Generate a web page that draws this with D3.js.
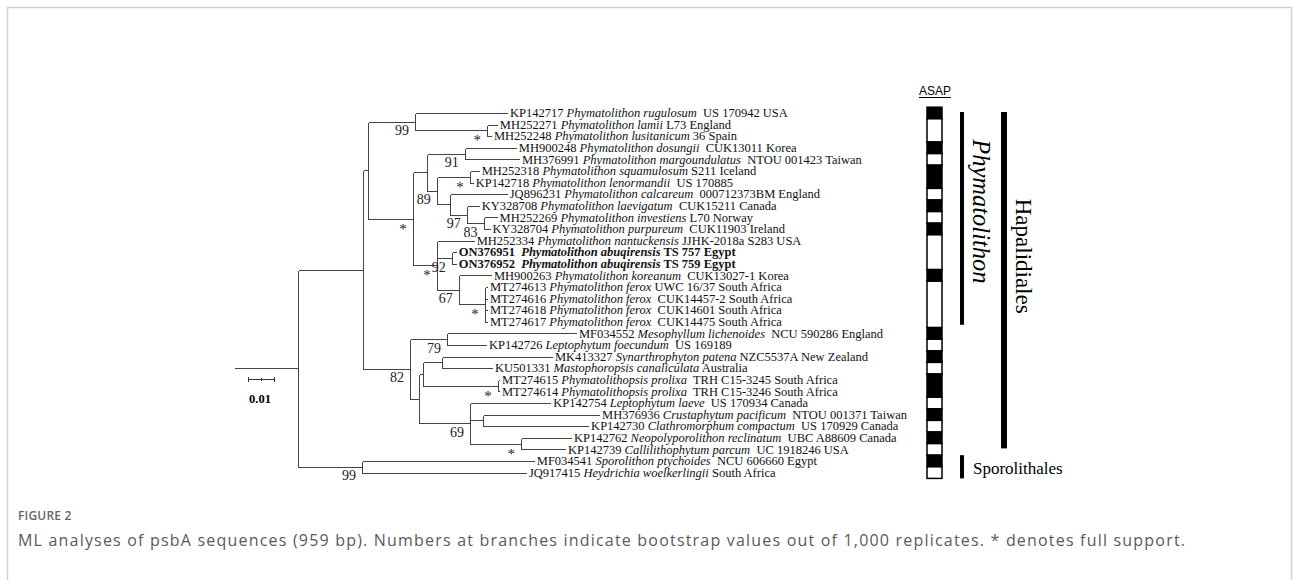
<!DOCTYPE html>
<html><head><meta charset="utf-8">
<script src="https://cdn.jsdelivr.net/npm/d3@7"></script>
<style>
body{margin:0;background:#fff;}
svg{display:block;}
text{white-space:pre;}
</style></head><body>
<svg id="chart" width="1293" height="580"></svg>
<script>
// ---------- DATA ----------
// Tree topology, branch lengths (substitutions/site) and bootstrap labels (Newick)
const newick = "(((" +
  "(KP142717:0.0358,(MH252271:0.0042,MH252248:0.0019)*:0.0277)99:0.0181," +
  "(((MH900248:0.0200,MH376991:0.0212)91:0.0146,((MH252318:0.0038,KP142718:0.0015)*:0.0127,(JQ896231:0.0223,(KY328708:0.0050,(MH252269:0.0054,KY328704:0.0027)83:0.0065)97:0.0065):0.0050)89:0.0038):0.0054," +
  "(MH252334:0.0146,(ON376951:0.0019,ON376952:0.0019)92:0.0058,(MH900263:0.0127,(MT274613:0.0012,MT274616:0.0012,MT274618:0.0012,MT274617:0.0012)*:0.0100)67:0.0085)*:0.0092)*:0.0173" +
  "):0.0019," +
  "((MF034552:0.0500,KP142726:0.0154)79:0.0142,(((MK413327:0.0427,KU501331:0.0196):0.0073,(MT274615:0.0008,MT274614:0.0008)*:0.0288):0.0015,(KP142754:0.0312,(MH376936:0.0450,KP142730:0.0408):0.0050,(KP142762:0.0196,KP142739:0.0173)*:0.0196)69:0.0196):0.0035)82:0.0181" +
  "):0.0250,(MF034541:0.0665,JQ917415:0.0635)99:0.0246):0.0242;";

const accessions = ["KP142717","MH252271","MH252248","MH900248","MH376991","MH252318","KP142718","JQ896231","KY328708","MH252269","KY328704","MH252334","ON376951","ON376952","MH900263","MT274613","MT274616","MT274618","MT274617","MF034552","KP142726","MK413327","KU501331","MT274615","MT274614","KP142754","MH376936","KP142730","KP142762","KP142739","MF034541","JQ917415"];
const species = ["Phymatolithon rugulosum","Phymatolithon lamii","Phymatolithon lusitanicum","Phymatolithon dosungii","Phymatolithon margoundulatus","Phymatolithon squamulosum","Phymatolithon lenormandii","Phymatolithon calcareum","Phymatolithon laevigatum","Phymatolithon investiens","Phymatolithon purpureum","Phymatolithon nantuckensis","Phymatolithon abuqirensis","Phymatolithon abuqirensis","Phymatolithon koreanum","Phymatolithon ferox","Phymatolithon ferox","Phymatolithon ferox","Phymatolithon ferox","Mesophyllum lichenoides","Leptophytum foecundum","Synarthrophyton patena","Mastophoropsis canaliculata","Phymatolithopsis prolixa","Phymatolithopsis prolixa","Leptophytum laeve","Crustaphytum pacificum","Clathromorphum compactum","Neopolyporolithon reclinatum","Callilithophytum parcum","Sporolithon ptychoides","Heydrichia woelkerlingii"];
const vouchers = ["  US 170942 USA"," L73 England"," 36 Spain","  CUK13011 Korea","  NTOU 001423 Taiwan"," S211 Iceland","  US 170885","  000712373BM England","  CUK15211 Canada"," L70 Norway","  CUK11903 Ireland"," JJHK-2018a S283 USA"," TS 757 Egypt"," TS 759 Egypt","  CUK13027-1 Korea"," UWC 16/37 South Africa","  CUK14457-2 South Africa","  CUK14601 South Africa","  CUK14475 South Africa","  NCU 590286 England","  US 169189"," NZC5537A New Zealand"," Australia","  TRH C15-3245 South Africa","  TRH C15-3246 South Africa","  US 170934 Canada","  NTOU 001371 Taiwan","  US 170929 Canada","  UBC A88609 Canada","  UC 1918246 USA","  NCU 606660 Egypt"," South Africa"];
const newSequences = ["ON376951","ON376952"];

// ASAP species partition (one group id per tip, in tip order)
const asapGroups = [1,2,2,3,4,5,5,6,7,8,9,10,10,10,11,12,12,12,12,13,14,15,16,17,17,18,19,20,21,22,23,24];

// Clade bars: name, first tip, last tip
const cladeNames = ["Phymatolithon","Hapalidiales","Sporolithales"];
const cladeFirst = [0,0,30];
const cladeLast  = [18,29,31];

const scaleBarValue = 0.01;
const asapTitle = "ASAP";
const figureLabel = "FIGURE 2";
const captionText = "ML analyses of psbA sequences (959 bp). Numbers at branches indicate bootstrap values out of 1,000 replicates. * denotes full support.";

// ---------- PARSER ----------
function parseNewick(s){
  let i = 0;
  function node(){
    const n = {children:[]};
    if (s[i] === '('){
      i++;
      n.children.push(node());
      while (s[i] === ','){ i++; n.children.push(node()); }
      i++; // ')'
    }
    let name = '';
    while (i < s.length && !',():;'.includes(s[i])) name += s[i++];
    n.name = name;
    n.length = 0;
    if (s[i] === ':'){
      i++;
      let l = '';
      while (i < s.length && !',();'.includes(s[i])) l += s[i++];
      n.length = +l;
    }
    return n;
  }
  return node();
}

// ---------- LAYOUT ----------
const svg = d3.select('#chart');
const SERIF = '"Liberation Serif","Times New Roman",Times,serif';

// frame
svg.append('rect').attr('x',7.5).attr('y',7.5).attr('width',1284).attr('height',620)
  .attr('fill','none').attr('stroke','#d2d2d2').attr('stroke-width',1.5);

const root = d3.hierarchy(parseNewick(newick), d => d.children.length ? d.children : null);
root.eachBefore(d => { d.len = (d.parent ? d.parent.len : 0) + d.data.length; });
const leaves = root.leaves();
leaves.forEach((d,i) => d.row = i);

const x = d3.scaleLinear().domain([0, 0.01]).range([235, 261]);
const y = d3.scaleLinear().domain([0, leaves.length - 1]).range([113, 472.6]);

root.eachAfter(d => {
  d.px = x(d.len);
  d.py = d.children ? (d.children[0].py + d.children[d.children.length-1].py) / 2 : y(d.row);
});

const snap = v => Math.round(v) + 0.5;
const gT = svg.append('g').attr('stroke','#444').attr('stroke-width',1).attr('fill','none')
  .attr('shape-rendering','crispEdges');

// root stub
gT.append('line').attr('x1', x(0)).attr('x2', root.px).attr('y1', snap(root.py)).attr('y2', snap(root.py));
// horizontal branches
root.descendants().filter(d => d.parent).forEach(d => {
  gT.append('line').attr('x1', snap(d.parent.px)).attr('x2', d.px)
    .attr('y1', snap(d.py)).attr('y2', snap(d.py));
});
// vertical connectors
root.descendants().filter(d => d.children).forEach(d => {
  gT.append('line').attr('x1', snap(d.px)).attr('x2', snap(d.px))
    .attr('y1', snap(d.children[0].py)).attr('y2', snap(d.children[d.children.length-1].py));
});

// support values
root.descendants().filter(d => d.children && d.data.name && d.parent).forEach(d => {
  const star = d.data.name === '*';
  svg.append('text').attr('x', d.px - 6).attr('y', d.py + (star ? 15 : 13.5))
    .attr('text-anchor','end').attr('font-family', SERIF)
    .attr('font-size', star ? 15 : 14).attr('fill','#222').text(d.data.name);
});

// tip labels
leaves.forEach(d => {
  const k = accessions.indexOf(d.data.name);
  const bold = newSequences.includes(d.data.name);
  const t = svg.append('text').attr('x', d.px + 2).attr('y', d.py).attr('dy','0.34em')
    .attr('font-family', SERIF).attr('font-size', 12.5).attr('fill','#111')
    .attr('font-weight', bold ? 'bold' : null);
  t.append('tspan').text(accessions[k] + (bold ? '  ' : ' '));
  t.append('tspan').attr('font-style','italic').text(species[k]);
  t.append('tspan').text(vouchers[k]);
});

// scale bar
const sbX = 248, sbY = 379.5, sbW = x(scaleBarValue) - x(0);
const gS = svg.append('g').attr('stroke','#333').attr('stroke-width',1).attr('shape-rendering','crispEdges');
gS.append('line').attr('x1', sbX).attr('x2', sbX + sbW).attr('y1', sbY).attr('y2', sbY);
[0, 0.5, 1].forEach(f => {
  const h = f === 0.5 ? 1.5 : 2.5;
  gS.append('line').attr('x1', snap(sbX + f*sbW)).attr('x2', snap(sbX + f*sbW)).attr('y1', sbY - h).attr('y2', sbY + h);
});
svg.append('text').attr('x', sbX + sbW/2 - 1).attr('y', 403).attr('text-anchor','middle')
  .attr('font-family', SERIF).attr('font-weight','bold').attr('font-size', 12.5).text(String(scaleBarValue));

// ASAP column
const aX = 927, aW = 15, half = (y(1) - y(0)) / 2;
const groups = [];
asapGroups.forEach((gid, i) => {
  const last = groups[groups.length-1];
  if (last && last.id === gid) last.last = i; else groups.push({id: gid, first: i, last: i});
});
groups.forEach((gr, j) => {
  svg.append('rect').attr('x', aX).attr('y', y(gr.first) - half).attr('width', aW)
    .attr('height', y(gr.last) - y(gr.first) + 2*half)
    .attr('fill', j % 2 === 0 ? '#000' : '#fff').attr('stroke','#000').attr('stroke-width',1.5);
});
const asapT = svg.append('text').attr('x', aX + aW/2 + 0.5).attr('y', 95).attr('text-anchor','middle')
  .attr('font-family','"Liberation Sans",Arial,sans-serif').attr('font-size',12).text(asapTitle);
const aw = asapT.node().getComputedTextLength();
svg.append('line').attr('x1', aX + aW/2 + 0.5 - aw/2).attr('x2', aX + aW/2 + 0.5 + aw/2)
  .attr('y1', 97.5).attr('y2', 97.5).attr('stroke','#000').attr('stroke-width',1);

// clade bars
const barX = [962, 1004, 962], barW = [4, 6, 4];
cladeNames.forEach((name, i) => {
  const y0 = i === 2 ? y(cladeFirst[i]) - half : y(cladeFirst[i]) - 1;
  const y1 = i === 2 ? y(cladeLast[i]) + half : (i === 0 ? y(cladeLast[i]) + 3 : y(cladeLast[i]) - 1);
  svg.append('rect').attr('x', barX[i] - barW[i]/2).attr('y', y0).attr('width', barW[i]).attr('height', y1 - y0).attr('fill','#000');
  if (i === 2){
    svg.append('text').attr('x', barX[i] + 11).attr('y', y1).attr('dy', -4)
      .attr('font-family', SERIF).attr('font-size', 17).text(name);
  } else {
    const cx = i === 0 ? 981 : 1024;
    const cy = (y0 + y1) / 2 - (i === 0 ? 7 : 24);
    svg.append('text').attr('transform', `translate(${cx},${cy}) rotate(90)`)
      .attr('text-anchor','middle').attr('dy','0.33em')
      .attr('font-family', SERIF).attr('font-size', i === 0 ? 24.5 : 23)
      .attr('font-style', i === 0 ? 'italic' : null).text(name);
  }
});

// caption
svg.append('text').attr('x', 18).attr('y', 520).attr('font-family','"Open Sans",Lato,sans-serif')
  .attr('font-size', 12).attr('font-weight', 600).attr('fill','#666').attr('letter-spacing', 0.2).text(figureLabel);
svg.append('text').attr('x', 18).attr('y', 546).attr('font-family','"Open Sans",Lato,sans-serif')
  .attr('font-size', 16).attr('fill','#5a5a5a').attr('textLength', 1167).attr('lengthAdjust','spacing').text(captionText);
</script>
</body></html>
